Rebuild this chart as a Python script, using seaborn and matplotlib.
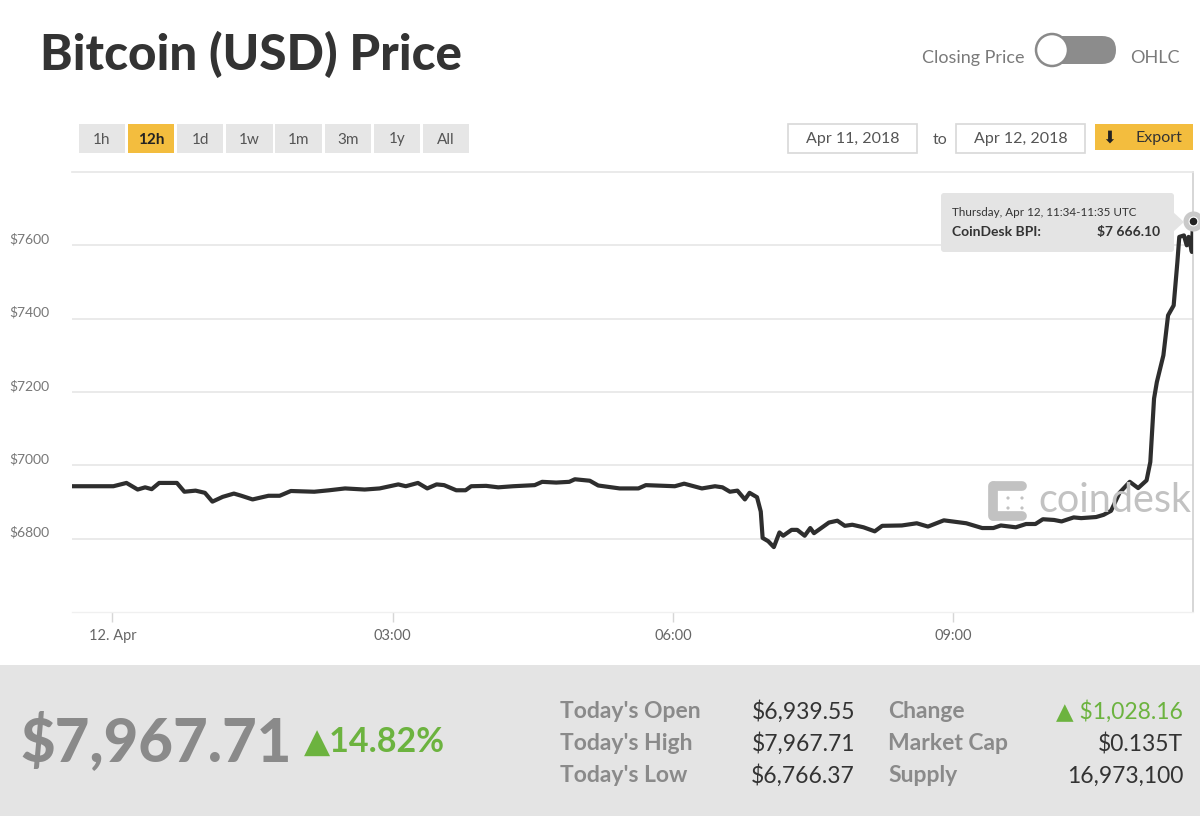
import numpy as np
import pandas as pd
import matplotlib
matplotlib.use("Agg")
import matplotlib.pyplot as plt
import matplotlib.transforms as mtransforms
from matplotlib.patches import Rectangle, FancyBboxPatch, Circle, Polygon
import seaborn as sns

# ---------------- data ----------------
hours = [-0.433, 0.01, 0.15, 0.27, 0.35, 0.42, 0.5, 0.69, 0.77, 0.89, 0.99, 1.07, 1.18,
         1.3, 1.38, 1.5, 1.67, 1.79, 1.91, 2.16, 2.32, 2.49, 2.7, 2.86, 3.06, 3.14, 3.27,
         3.37, 3.47, 3.55, 3.68, 3.78, 3.84, 4.0, 4.13, 4.29, 4.52, 4.6, 4.75, 4.89, 4.95,
         5.11, 5.2, 5.43, 5.63, 5.71, 6.02, 6.12, 6.31, 6.45, 6.53, 6.61, 6.69, 6.77,
         6.82, 6.9, 6.94, 6.96, 7.02, 7.08, 7.14, 7.18, 7.27, 7.33, 7.41, 7.47, 7.51,
         7.67, 7.76, 7.84, 7.92, 8.04, 8.16, 8.24, 8.45, 8.61, 8.73, 8.9, 9.14, 9.31,
         9.43, 9.51, 9.67, 9.78, 9.88, 9.96, 10.08, 10.16, 10.29, 10.37, 10.53, 10.61,
         10.69, 10.78, 10.89, 10.98, 11.07, 11.11, 11.15, 11.18, 11.25, 11.3, 11.36,
         11.4, 11.42, 11.47, 11.5, 11.52, 11.555, 11.567]
price = [6943, 6943, 6952, 6934, 6940, 6935, 6952, 6952, 6928, 6931, 6925, 6901, 6914,
         6923, 6917, 6907, 6917, 6917, 6930, 6928, 6932, 6937, 6934, 6937, 6948, 6943, 6952,
         6937, 6948, 6946, 6932, 6932, 6943, 6944, 6940, 6943, 6946, 6955, 6953, 6955, 6962,
         6958, 6945, 6937, 6937, 6946, 6943, 6950, 6937, 6943, 6940, 6928, 6931, 6907,
         6925, 6913, 6874, 6802, 6793, 6777, 6817, 6808, 6824, 6824, 6808, 6829, 6815,
         6844, 6849, 6835, 6838, 6831, 6820, 6835, 6836, 6842, 6833, 6850, 6842, 6829,
         6829, 6836, 6831, 6840, 6840, 6853, 6851, 6847, 6858, 6856, 6859, 6865,
         6876, 6925, 6955, 6938, 6959, 7009, 7182, 7227, 7300, 7409, 7436,
         7555, 7623, 7627, 7600, 7623, 7582, 7666]

ytick_values = [6800, 7000, 7200, 7400, 7600]
ytick_labels = ["$6800", "$7000", "$7200", "$7400", "$7600"]
xtick_values = [0, 3, 6, 9]
xtick_labels = ["12. Apr", "03:00", "06:00", "09:00"]

range_buttons = ["1h", "12h", "1d", "1w", "1m", "3m", "1y", "All"]
active_button = "12h"
date_from = "Apr 11, 2018"
date_to = "Apr 12, 2018"

current_price = "$7,967.71"
pct_change = "\u25B214.82%"
stats_left_labels = ["Today's Open", "Today's High", "Today's Low"]
stats_left_values = ["$6,939.55", "$7,967.71", "$6,766.37"]
stats_right_labels = ["Change", "Market Cap", "Supply"]
stats_right_values = ["\u25B2 $1,028.16", "$0.135T", "16,973,100"]

tooltip_time = "Thursday, Apr 12, 11:34-11:35 UTC"
tooltip_label = "CoinDesk BPI:"
tooltip_value = "$7 666.10"

# ---------------- style ----------------
sns.set_theme(style="white")
plt.rcParams['font.family'] = ['Lato', 'DejaVu Sans']

W, H = 1200, 816
fig = plt.figure(figsize=(12, 8.16), dpi=100)
fig.patch.set_facecolor("white")
# pixel transform, origin top-left
P = mtransforms.Affine2D().scale(1 / W, -1 / H).translate(0, 1) + fig.transFigure

DARK = "#333333"
GREY = "#8a8a8a"
GREEN = "#6cb33f"
YELLOW = "#f3bd3e"
BTN = "#e6e6e6"

# ---------------- header ----------------
fig.text(40, 54, "Bitcoin (USD) Price", transform=P, fontsize=35.5, fontweight=900,
         color=DARK, va="center", ha="left")
fig.text(1025, 58, "Closing Price", transform=P, fontsize=13, color="#7a7a7a",
         va="center", ha="right")
fig.text(1130, 58, "OHLC", transform=P, fontsize=13, color="#7a7a7a", va="center", ha="left")
fig.patches.append(FancyBboxPatch((1040, 36), 76, 28, boxstyle="round,pad=0,rounding_size=14",
                                  fc="#8c8c8c", ec="none", transform=P, figure=fig))
fig.patches.append(Circle((1052, 50), 16, fc="white", ec="#8a8a8a", lw=1.8, transform=P,
                          figure=fig))

# range buttons
for i, lab in enumerate(range_buttons):
    x0 = 78.5 + i * 49.2
    active = lab == active_button
    fig.patches.append(Rectangle((x0, 124), 46.5, 29, fc=YELLOW if active else BTN, ec="none",
                                 transform=P, figure=fig))
    fig.text(x0 + 23.25, 139.5, lab, transform=P, fontsize=11,
             color="#222222" if active else "#555555",
             fontweight="bold" if active else "normal", ha="center", va="center")

# date boxes
for x0, lab in [(788, date_from), (956, date_to)]:
    fig.patches.append(Rectangle((x0, 124), 129, 29, fc="white", ec="#d8d8d8", lw=1.2,
                                 transform=P, figure=fig))
    fig.text(x0 + 64.5, 139.5, lab, transform=P, fontsize=11.5, color="#555555",
             ha="center", va="center")
fig.text(940, 139.5, "to", transform=P, fontsize=11.5, color="#555555", ha="center", va="center")
fig.patches.append(Rectangle((1095, 124), 98, 26, fc=YELLOW, ec="none", transform=P, figure=fig))
fig.text(1109, 138, "\u2B07", transform=P, fontsize=12, color="#222222", ha="center",
         va="center", family=["DejaVu Sans"])
fig.text(1159, 138, "Export", transform=P, fontsize=11.5, color="#333333", ha="center",
         va="center")

# ---------------- chart ----------------
ax = fig.add_axes([72 / W, 1 - 612 / H, (1193 - 72) / W, (612 - 172) / H])
df = pd.DataFrame({"hour": hours, "price": price})
sns.lineplot(data=df, x="hour", y="price", ax=ax, color="#2e2e2e", linewidth=3.0,
             solid_joinstyle="round", zorder=3)
ax.set_xlim(-0.433, 11.567)
ax.set_ylim(6600, 7800)
ax.set_xlabel("")
ax.set_ylabel("")
ax.set_yticks(ytick_values, labels=ytick_labels)
ax.set_xticks(xtick_values, labels=xtick_labels)
ax.yaxis.grid(True, color="#e6e6e6", lw=1.2)
ax.xaxis.grid(False)
ax.set_axisbelow(True)
ax.spines["left"].set_visible(False)
ax.spines["top"].set_color("#e6e6e6")
ax.spines["top"].set_linewidth(1.2)
ax.spines["bottom"].set_color("#f0f0f0")
ax.spines["bottom"].set_linewidth(1.0)
ax.spines["right"].set_color("#cfcfcf")
ax.spines["right"].set_linewidth(1.2)
ax.tick_params(axis="y", length=0, pad=16, labelsize=10, labelcolor="#777777")
ax.tick_params(axis="x", length=7, width=1, color="#d6d6d6", pad=5, labelsize=10.5,
               labelcolor="#666666", bottom=True)
for lab in ax.get_yticklabels():
    lab.set_horizontalalignment("right")
    lab.set_transform(lab.get_transform() + mtransforms.ScaledTranslation(0, 0.07, fig.dpi_scale_trans))

# marker at the last point
ax.scatter([hours[-1]], [price[-1]], s=210, color="#c9c9c9", zorder=4, clip_on=False, lw=0)
ax.scatter([hours[-1]], [price[-1]], s=40, color="#222222", edgecolor="white", lw=0.8,
           zorder=5, clip_on=False)

# watermark
wm = "#c2c2c2"
fig.lines.append(plt.Line2D([994, 1022], [486, 486], transform=P, color=wm, lw=7,
                            solid_capstyle="round", figure=fig))
fig.lines.append(plt.Line2D([994, 1022], [516, 516], transform=P, color=wm, lw=7,
                            solid_capstyle="round", figure=fig))
fig.lines.append(plt.Line2D([993, 993], [486, 516], transform=P, color=wm, lw=7,
                            solid_capstyle="round", figure=fig))
for (cx, cy) in [(1008, 498), (1008, 508), (1022, 498), (1022, 508)]:
    fig.patches.append(Circle((cx, cy), 1.6, fc=wm, ec="none", transform=P, figure=fig))
fig.text(1038, 500, "coindesk", transform=P, fontsize=28.5, color=wm, ha="left", va="center")

# tooltip
fig.patches.append(FancyBboxPatch((941, 193), 233, 59, boxstyle="round,pad=0,rounding_size=3",
                                  fc="#e4e4e4", ec="none", transform=P, figure=fig, zorder=6))
fig.patches.append(Polygon([(1173, 212), (1184, 222), (1173, 232)], closed=True, fc="#e4e4e4",
                           ec="none", transform=P, figure=fig, zorder=6))
fig.text(952, 213, tooltip_time, transform=P, fontsize=8.4, color="#333333", ha="left",
         va="center", zorder=7)
fig.text(952, 232, tooltip_label, transform=P, fontsize=10, fontweight="bold", color="#333333",
         ha="left", va="center", zorder=7)
fig.text(1160, 232, tooltip_value, transform=P, fontsize=10, fontweight="bold", color="#333333",
         ha="right", va="center", zorder=7)

# ---------------- bottom panel ----------------
fig.patches.append(Rectangle((0, 665), 1200, 151, fc="#e4e4e4", ec="none", transform=P,
                             figure=fig, zorder=0))
fig.text(20, 741, current_price, transform=P, fontsize=43, fontweight=900, color=GREY,
         ha="left", va="center")
fig.text(304, 742, pct_change, transform=P, fontsize=24.5, fontweight="bold", color=GREEN,
         ha="left", va="center")

rows_y = [712, 744, 776]
for y, l1, v1, l2, v2 in zip(rows_y, stats_left_labels, stats_left_values,
                             stats_right_labels, stats_right_values):
    fig.text(560, y, l1, transform=P, fontsize=16.5, fontweight="bold", color=GREY, ha="left",
             va="center")
    fig.text(855, y, v1, transform=P, fontsize=16.5, color=DARK, ha="right", va="center")
    fig.text(888, y, l2, transform=P, fontsize=16.5, fontweight="bold", color=GREY, ha="left",
             va="center")
    fig.text(1183, y, v2, transform=P, fontsize=16.5,
             color=GREEN if v2.startswith("\u25B2") else DARK, ha="right", va="center")

fig.savefig("out.png", dpi=100)
